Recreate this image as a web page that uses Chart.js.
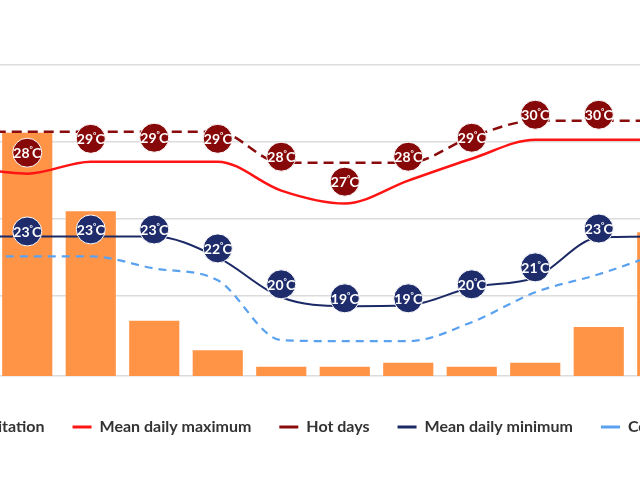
<!DOCTYPE html>
<html>
<head>
<meta charset="utf-8">
<style>
  html, body { margin: 0; padding: 0; background: #fff; overflow: hidden; }
  body { width: 640px; height: 480px; position: relative; }
  #wrap { position: absolute; left: -113px; top: 0; }
</style>
</head>
<body>
<div id="wrap"><canvas id="climate" width="860" height="480"></canvas></div>

<script src="https://cdn.jsdelivr.net/npm/chart.js"></script>
<script>
const months = ['Jan', 'Feb', 'Mar', 'Apr', 'May', 'Jun', 'Jul', 'Aug', 'Sep', 'Oct', 'Nov', 'Dec'];

// precipitation, mm
const precipitation = [300, 313, 212, 71, 33, 12, 12, 17, 12, 17, 63, 185];

// temperatures, °C
const meanMax   = [28.4, 27.95, 28.73, 28.73, 28.73, 26.85, 26.01, 27.5, 28.92, 30.15, 30.15, 30.15];
const hotDays   = [30.67, 30.67, 30.67, 30.67, 30.67, 28.66, 28.66, 28.66, 30.34, 31.38, 31.38, 31.38];
const meanMin   = [23.87, 23.87, 23.87, 23.87, 22.52, 19.93, 19.35, 19.41, 20.58, 21.22, 23.81, 23.87];
const coldNights = [22.58, 22.58, 22.58, 21.8, 21.03, 17.15, 17.08, 17.08, 18.31, 20.25, 21.42, 22.84];

// label bubbles: where they sit and what they say
const hotBubble  = [29.31, 29.31, 30.21, 30.28, 30.21, 29.05, 27.43, 29.05, 30.28, 31.77, 31.77, 31.77];
const hotLabel   = [28, 28, 29, 29, 29, 28, 27, 28, 29, 30, 30, 30];
const coldBubble = [24.2, 24.2, 24.33, 24.33, 23.1, 20.77, 19.86, 19.86, 20.77, 21.87, 24.39, 24.33];
const coldLabel  = [23, 23, 23, 23, 22, 20, 19, 19, 20, 21, 23, 23];

const tempTicks = [20, 25, 30, 35];

Chart.defaults.font.family = 'Lato';

// white "NN°C" inside the round markers, with a small degree sign
const bubbleText = {
  id: 'bubbleText',
  afterDatasetsDraw(chart) {
    const ctx = chart.ctx;
    const big = 'bold 14px Lato';
    const small = 'bold 8px Lato';
    [[5, hotLabel], [6, coldLabel]].forEach(([idx, labels]) => {
      chart.getDatasetMeta(idx).data.forEach((pt, j) => {
        const num = String(labels[j]);
        ctx.save();
        ctx.fillStyle = '#fff';
        ctx.textBaseline = 'middle';
        ctx.textAlign = 'left';
        ctx.font = big;
        const wNum = ctx.measureText(num).width;
        const wC = ctx.measureText('C').width;
        ctx.font = small;
        const wDeg = ctx.measureText('°').width - 1;
        let x = pt.x - (wNum + wDeg + wC) / 2;
        const y = pt.y + 1;
        ctx.font = big;
        ctx.fillText(num, x, y);
        x += wNum;
        ctx.font = small;
        ctx.fillText('°', x, y - 4);
        x += wDeg;
        ctx.font = big;
        ctx.fillText('C', x, y);
        ctx.restore();
      });
    });
  }
};

const lineBase = { type: 'line', pointRadius: 0, cubicInterpolationMode: 'monotone', yAxisID: 'yT', order: 5, fill: false };

new Chart(document.getElementById('climate'), {
  data: {
    labels: months,
    datasets: [
      {
        type: 'bar',
        label: 'Precipitation',
        data: precipitation,
        yAxisID: 'yP',
        backgroundColor: '#ff9447',
        borderColor: '#ff9447',
        barPercentage: 0.79,
        categoryPercentage: 1,
        order: 10
      },
      { ...lineBase, label: 'Mean daily maximum', data: meanMax, borderColor: '#ff1414', borderWidth: 2.5 },
      { ...lineBase, label: 'Hot days', data: hotDays, borderColor: '#8a0b0b', borderWidth: 2.5, borderDash: [10, 6] },
      { ...lineBase, label: 'Mean daily minimum', data: meanMin, borderColor: '#1b2a66', borderWidth: 2 },
      { ...lineBase, label: 'Cold nights', data: coldNights, borderColor: '#5aa2ef', borderWidth: 2.2, borderDash: [8, 6] },
      {
        type: 'line', label: 'hot', data: hotBubble, yAxisID: 'yT', showLine: false, order: 1,
        pointRadius: 14.5, pointHoverRadius: 14.5,
        pointBackgroundColor: '#870808', pointBorderColor: '#fff', pointBorderWidth: 1
      },
      {
        type: 'line', label: 'cold', data: coldBubble, yAxisID: 'yT', showLine: false, order: 1,
        pointRadius: 14.5, pointHoverRadius: 14.5,
        pointBackgroundColor: '#1e2c6b', pointBorderColor: '#fff', pointBorderWidth: 1
      }
    ]
  },
  options: {
    responsive: false,
    animation: false,
    events: [],
    layout: { padding: { top: 65, bottom: 35, left: 0, right: 0 } },
    scales: {
      x: {
        type: 'category',
        offset: true,
        grid: { display: false },
        border: { display: true, color: '#dcdcdc', width: 1.5 },
        ticks: { color: '#666', font: { size: 14 }, padding: 7 },
        afterFit: (s) => { s.height = 15; }
      },
      yT: {
        position: 'left',
        min: 14.82,
        max: 35,
        afterBuildTicks: (s) => { s.ticks = tempTicks.map(v => ({ value: v })); },
        grid: { color: '#dcdcdc', lineWidth: 1.5, drawTicks: false },
        border: { display: false },
        ticks: { color: '#666', font: { size: 13 }, callback: v => v + '°C' },
        afterFit: (s) => { s.width = 45; }
      },
      yP: {
        position: 'right',
        min: 0,
        max: 400,
        grid: { display: false },
        border: { display: false },
        ticks: { color: '#666', font: { size: 13 }, stepSize: 100, callback: v => v + ' mm' },
        afterFit: (s) => { s.width = 53; }
      }
    },
    plugins: {
      tooltip: { enabled: false },
      legend: {
        position: 'bottom',
        labels: {
          color: '#333',
          font: { size: 16, weight: 'bold' },
          padding: 28,
          usePointStyle: true,
          pointStyleWidth: 19,
          filter: (item) => item.datasetIndex < 5,
          generateLabels: (chart) => {
            const items = Chart.defaults.plugins.legend.labels.generateLabels(chart);
            items.sort((a, b) => a.datasetIndex - b.datasetIndex);
            items.forEach(it => {
              if (it.datasetIndex === 0) {
                it.pointStyle = 'rect';
              } else {
                it.pointStyle = 'line';
                it.lineWidth = 3;
              }
            });
            return items;
          }
        }
      }
    }
  },
  plugins: [bubbleText]
});
</script>
</body>
</html>
